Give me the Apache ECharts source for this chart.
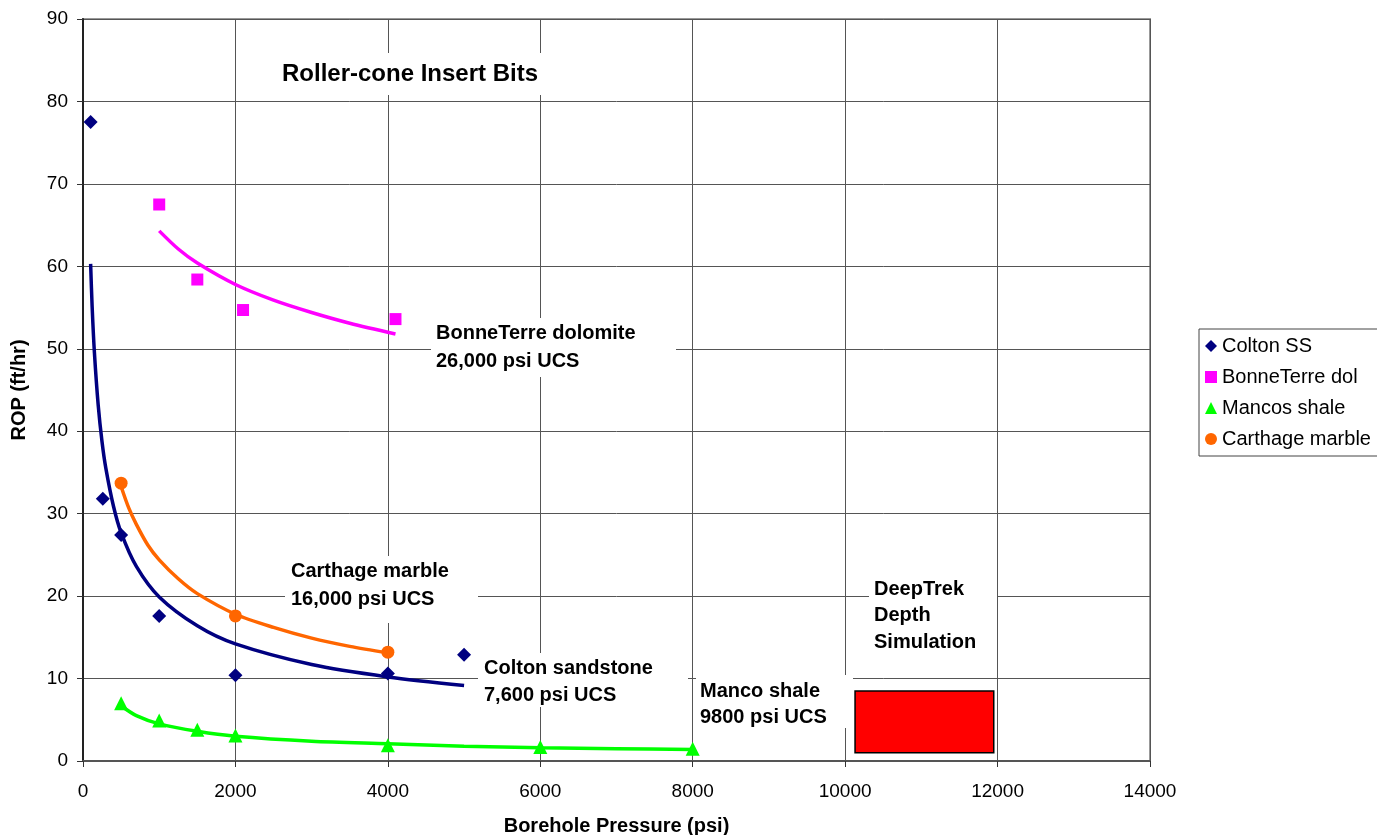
<!DOCTYPE html>
<html><head><meta charset="utf-8">
<script src="https://cdn.jsdelivr.net/npm/echarts@6/dist/echarts.min.js"></script>
<style>html,body{margin:0;padding:0;background:#fff}#c{width:1377px;height:835px}</style>
</head><body><div id="c"></div>
<script>
// ---- data ----
const coltonX = [100, 260, 500, 1000, 2000, 4000, 5000];
const coltonY = [77.5, 31.8, 27.4, 17.6, 10.4, 10.6, 12.9];
const bonneX = [1000, 1500, 2100, 4100];
const bonneY = [67.5, 58.4, 54.7, 53.6];
const mancosX = [500, 1000, 1500, 2000, 4000, 6000, 8000];
const mancosY = [7.0, 4.9, 3.8, 3.1, 1.9, 1.7, 1.5];
const carthX = [500, 2000, 4000];
const carthY = [33.7, 17.6, 13.2];

// trend curves
const coltonTrendX = [100, 120, 150, 200, 250, 300, 400, 500, 700, 1000, 1500, 2000, 3000, 4000, 5000];
const coltonTrendY = [60.3, 55.1, 49.5, 43.1, 38.7, 35.5, 30.9, 27.7, 23.6, 19.9, 16.4, 14.2, 11.7, 10.2, 9.15];
const bonneTrendX = [1000, 1250, 1500, 2000, 2500, 3000, 3500, 4100];
const bonneTrendY = [64.3, 62.1, 60.4, 57.8, 55.9, 54.4, 53.1, 51.8];
const mancosTrendX = [500, 700, 1000, 1500, 2000, 3000, 4000, 5000, 6000, 7000, 8000];
const mancosTrendY = [6.7, 5.5, 4.5, 3.6, 3.0, 2.4, 2.1, 1.8, 1.6, 1.5, 1.4];
const carthTrendX = [500, 600, 700, 850, 1000, 1250, 1500, 2000, 2500, 3000, 3500, 4000];
const carthTrendY = [33.3, 30.7, 28.7, 26.2, 24.4, 22.1, 20.3, 17.8, 16.2, 14.9, 13.9, 13.1];

// DeepTrek simulation region
const deepTrekX = [10130, 11950];
const deepTrekY = [1.0, 8.5];

const seriesNames = ['Colton SS', 'BonneTerre dol', 'Mancos shale', 'Carthage marble'];
const xTickInterval = 2000, xMax = 14000;
const yTickInterval = 10, yMax = 90;

const zip = (xs, ys) => xs.map((x, i) => [x, ys[i]]);
const FONT = '"Liberation Sans", Arial, sans-serif';

const chart = echarts.init(document.getElementById('c'));

const boxes = [
  { r: [275, 53, 280, 42], text: 'Roller-cone Insert Bits', x: 282, y: 60, size: 24, lh: 28 },
  { r: [431, 318, 245, 59], text: 'BonneTerre dolomite\n26,000 psi UCS', x: 436, y: 319, size: 20, lh: 28 },
  { r: [285, 556, 193, 67], text: 'Carthage marble\n16,000 psi UCS', x: 291, y: 557, size: 20, lh: 28 },
  { r: [478, 653, 210, 54], text: 'Colton sandstone\n7,600 psi UCS', x: 484, y: 655, size: 20, lh: 27 },
  { r: [696, 675, 157, 53], text: 'Manco shale\n9800 psi UCS', x: 700, y: 678, size: 20, lh: 26 },
  { r: [869, 572, 128, 80], text: 'DeepTrek\nDepth\nSimulation', x: 874, y: 576, size: 20, lh: 26.5 }
];
const graphicEls = [];
boxes.forEach(b => {
  graphicEls.push({ type: 'rect', shape: { x: b.r[0], y: b.r[1], width: b.r[2], height: b.r[3] }, style: { fill: '#fff' }, z: 1 });
  graphicEls.push({ type: 'text', x: b.x, y: b.y, z: 2,
    style: { text: b.text, font: 'bold ' + b.size + 'px ' + FONT, fill: '#000', lineHeight: b.lh } });
});

const trendStyle = (color) => ({ type: 'line', showSymbol: false, symbol: 'none', smooth: 0.3,
  lineStyle: { color: color, width: 3.5 }, z: 3, silent: true });
const mk = (color) => ({ color: color, opacity: 1 });

chart.setOption({
  animation: false,
  backgroundColor: '#fff',
  grid: { left: 83, right: 227, top: 19, bottom: 74, show: true, borderColor: '#999', borderWidth: 2,
    containLabel: false, outerBoundsMode: 'none' },
  xAxis: {
    type: 'value', min: 0, max: xMax, interval: xTickInterval,
    name: 'Borehole Pressure (psi)', nameLocation: 'middle', nameGap: 55,
    nameTextStyle: { fontFamily: FONT, fontWeight: 'bold', fontSize: 20, color: '#000' },
    axisLine: { show: true, lineStyle: { color: '#555', width: 2 } },
    axisTick: { show: true, length: 6, lineStyle: { color: '#333' } },
    axisLabel: { fontFamily: FONT, fontSize: 19, color: '#000', margin: 21, formatter: v => String(v) },
    splitLine: { show: true, lineStyle: { color: '#555', width: 1 } }
  },
  yAxis: {
    type: 'value', min: 0, max: yMax, interval: yTickInterval,
    name: 'ROP (ft/hr)', nameLocation: 'middle', nameGap: 54, nameRotate: 90,
    nameTextStyle: { fontFamily: FONT, fontWeight: 'bold', fontSize: 20, color: '#000' },
    axisLine: { show: true, lineStyle: { color: '#222', width: 2 } },
    axisTick: { show: true, length: 6, lineStyle: { color: '#333' } },
    axisLabel: { fontFamily: FONT, fontSize: 19, color: '#000', margin: 15 },
    splitLine: { show: true, lineStyle: { color: '#555', width: 1 } }
  },
  legend: {
    orient: 'vertical', left: 1199, top: 329,
    data: seriesNames,
    backgroundColor: '#fff', borderColor: '#444', borderWidth: 1,
    padding: [7, 20, 7, 6], itemGap: 11, itemWidth: 12, itemHeight: 12,
    textStyle: { fontFamily: FONT, fontSize: 20, color: '#000' }
  },
  graphic: { elements: graphicEls },
  series: [
    Object.assign(trendStyle('#000080'), { name: 'ColtonTrend', data: zip(coltonTrendX, coltonTrendY) }),
    Object.assign(trendStyle('#FF00FF'), { name: 'BonneTrend', data: zip(bonneTrendX, bonneTrendY) }),
    Object.assign(trendStyle('#00FF00'), { name: 'MancosTrend', data: zip(mancosTrendX, mancosTrendY) }),
    Object.assign(trendStyle('#FF6600'), { name: 'CarthTrend', data: zip(carthTrendX, carthTrendY) }),
    { name: seriesNames[0], type: 'scatter', symbol: 'diamond', symbolSize: 14, itemStyle: mk('#000080'), data: zip(coltonX, coltonY), z: 4 },
    { name: seriesNames[1], type: 'scatter', symbol: 'rect', symbolSize: 12, itemStyle: mk('#FF00FF'), data: zip(bonneX, bonneY), z: 4 },
    { name: seriesNames[2], type: 'scatter', symbol: 'triangle', symbolSize: 14, itemStyle: mk('#00FF00'), data: zip(mancosX, mancosY), z: 4 },
    { name: seriesNames[3], type: 'scatter', symbol: 'circle', symbolSize: 13, itemStyle: mk('#FF6600'), data: zip(carthX, carthY), z: 4 },
    {
      name: 'DeepTrek', type: 'custom', z: 5,
      encode: { x: [0, 1], y: [2, 3] },
      data: [[deepTrekX[0], deepTrekX[1], deepTrekY[0], deepTrekY[1]]],
      renderItem: (params, api) => {
        const p1 = api.coord([api.value(0), api.value(3)]);
        const p2 = api.coord([api.value(1), api.value(2)]);
        return { type: 'rect', shape: { x: p1[0], y: p1[1], width: p2[0] - p1[0], height: p2[1] - p1[1] },
          style: { fill: '#FF0000', stroke: '#000', lineWidth: 1.5 } };
      }
    }
  ]
});
</script></body></html>
